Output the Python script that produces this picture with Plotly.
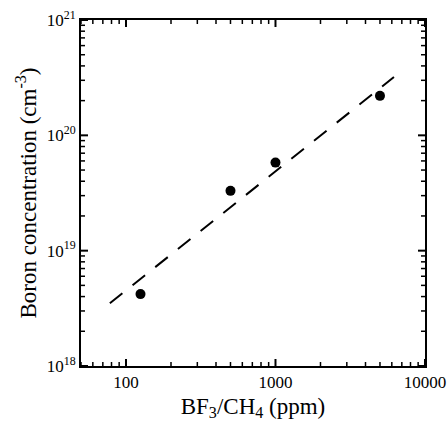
import plotly.graph_objects as go
import math

# Data
x_ppm = [125, 500, 1000, 5000]
boron = [4.2e18, 3.3e19, 5.8e19, 2.2e20]
fit_x = [78, 6200]
fit_y = [3.5e18, 3.2e20]

x_range = [50, 10000]
y_range = [1e18, 1e21]
x_major = [100, 1000, 10000]
x_labels = ["100", "1000", "10000"]
y_major = [1e18, 1e19, 1e20, 1e21]
y_labels = ["10<sup>18</sup>", "10<sup>19</sup>", "10<sup>20</sup>", "10<sup>21</sup>"]
x_minor = [m * d for d in [10, 100, 1000] for m in range(2, 10) if 50 <= m * d <= 10000]
y_minor = [m * d for d in [1e18, 1e19, 1e20] for m in range(2, 10)]

FONT = "Liberation Serif"
W, H = 448, 423
M = dict(l=81, r=23, t=20, b=57)
PW = W - M["l"] - M["r"]
PH = H - M["t"] - M["b"]
xr = [math.log10(x_range[0]), math.log10(x_range[1]) + 1e-4]
yr = [math.log10(y_range[0]) - 1e-4, math.log10(y_range[1]) + 1e-4]


def tick_paths(x_vals, y_vals, L):
    """Inside tick marks of length L px on all four sides, in data units."""
    dy = L / PH * (yr[1] - yr[0])
    dx = L / PW * (xr[1] - xr[0])
    xs, ys = [], []
    for v in x_vals:
        xs += [v, v, None, v, v, None]
        ys += [10 ** yr[0], 10 ** (yr[0] + dy), None, 10 ** yr[1], 10 ** (yr[1] - dy), None]
    for v in y_vals:
        xs += [10 ** xr[0], 10 ** (xr[0] + dx), None, 10 ** xr[1], 10 ** (xr[1] - dx), None]
        ys += [v, v, None, v, v, None]
    return xs, ys


fig = go.Figure()
fig.add_trace(go.Scatter(x=fit_x, y=fit_y, mode="lines",
                         line=dict(color="black", width=2, dash="16px,13px"),
                         showlegend=False))
fig.add_trace(go.Scatter(x=x_ppm, y=boron, mode="markers",
                         marker=dict(color="black", size=10),
                         showlegend=False))

mx, my = tick_paths(x_major, y_major, 7)
fig.add_trace(go.Scatter(x=mx, y=my, mode="lines", line=dict(color="black", width=2),
                         showlegend=False, hoverinfo="skip"))
nx, ny = tick_paths(x_minor, y_minor, 4)
fig.add_trace(go.Scatter(x=nx, y=ny, mode="lines", line=dict(color="black", width=1.5),
                         showlegend=False, hoverinfo="skip"))

fig.update_layout(
    template="simple_white", width=W, height=H, margin=M,
    plot_bgcolor="white", paper_bgcolor="white",
    xaxis=dict(type="log", range=xr, showline=True, linecolor="black", linewidth=2,
               mirror=True, ticks="", automargin=False,
               tickmode="array", tickvals=x_major, ticktext=x_labels,
               showgrid=False, zeroline=False,
               tickfont=dict(family=FONT, size=17, color="black"),
               title=dict(text="BF<sub>3</sub>/CH<sub>4</sub> (ppm)",
                          font=dict(family=FONT, size=23, color="black"), standoff=6)),
    yaxis=dict(type="log", range=yr, showline=True, linecolor="black", linewidth=2,
               mirror=True, ticks="", automargin=False,
               tickmode="array", tickvals=y_major, ticktext=y_labels,
               showgrid=False, zeroline=False,
               tickfont=dict(family=FONT, size=17, color="black"),
               title=dict(text="Boron concentration (cm<sup>-3</sup>)",
                          font=dict(family=FONT, size=23, color="black"), standoff=4)),
)
fig.write_html("out.html")
